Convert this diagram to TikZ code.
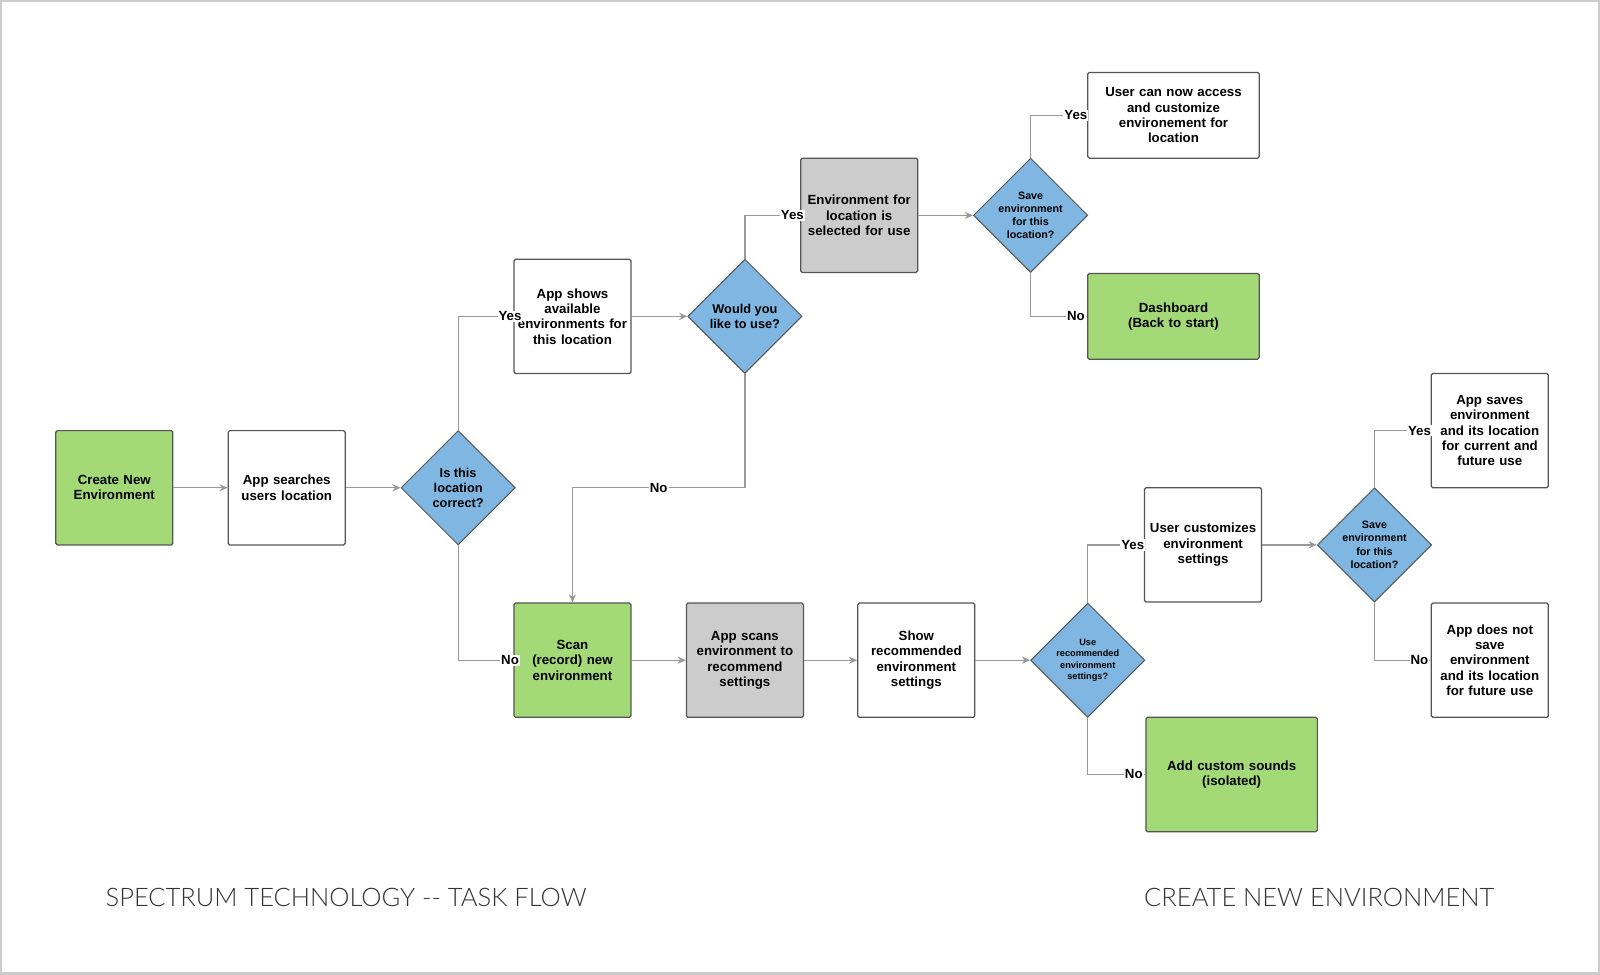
\documentclass[tikz,border=0pt]{standalone}
\usepackage{fontspec}
\setmainfont{Liberation Sans}
\newfontfamily\titlefont{Lato Light}
\usetikzlibrary{shapes.geometric,arrows.meta}
\definecolor{gr}{HTML}{A3D977}
\definecolor{gy}{HTML}{CCCCCC}
\definecolor{bl}{HTML}{7FB7E2}
\definecolor{bd}{HTML}{555555}
\definecolor{ln}{HTML}{999999}
\begin{document}
\begin{tikzpicture}[x=1pt,y=-1pt,
 box/.style={draw=bd,line width=1.2pt,rounded corners=1.5pt,minimum width=112pt,minimum height=112pt,align=center,text width=108pt,font=\fontsize{13}{15}\selectfont\bfseries},
 wbox/.style={box,minimum width=168pt,text width=150pt},
 dia/.style={diamond,draw=bd,line width=1pt,fill=bl,minimum width=112pt,minimum height=112pt,inner sep=0pt,align=center,font=\fontsize{12.5}{15}\selectfont\bfseries},
 con/.style={draw=ln,line width=1.2pt,-{Stealth[length=8pt,width=7pt]}},
 lab/.style={fill=white,inner sep=1pt,font=\fontsize{13}{15}\selectfont\bfseries}]
\fill[white] (0,0) rectangle (1568,955);
\draw[gray!40,line width=2pt] (1,1) rectangle (1567,954);
\node[box,fill=gr] (create) at (112,478) {Create New\\Environment};
\node[box] (search) at (281,478) {App searches\\users location};
\node[dia] (d1) at (449,478) {Is this\\location\\correct?};
\node[box] (shows) at (561,310) {App shows\\available\\environments for\\this location};
\node[dia] (d2) at (730,310) {Would you\\like to use?};
\node[box,fill=gy] (sel) at (842,211) {Environment for\\location is\\selected for use};
\node[dia,font=\fontsize{10.5}{13}\selectfont\bfseries] (d3) at (1010,211) {Save\\environment\\for this\\location?};
\node[wbox,minimum height=84pt] (access) at (1150,113) {User can now access\\and customize\\environement for\\location};
\node[wbox,minimum height=84pt,fill=gr] (dash) at (1150,310) {Dashboard\\(Back to start)};
\node[box,fill=gr] (scan) at (561,647) {Scan (record) new\\environment};
\node[box,fill=gy] (scans) at (730,647) {App scans\\environment to\\recommend\\settings};
\node[box] (show) at (898,647) {Show\\recommended\\environment\\settings};
\node[dia,font=\fontsize{9}{11}\selectfont\bfseries] (d4) at (1066,647) {Use\\recommended\\environment\\settings?};
\node[box] (cust) at (1179,534) {User customizes\\environment\\settings};
\node[dia,font=\fontsize{10.5}{13}\selectfont\bfseries] (d5) at (1347,534) {Save\\environment\\for this\\location?};
\node[box] (saves) at (1460,422) {App saves\\environment\\and its location\\for current and\\future use};
\node[box] (nots) at (1460,647) {App does not\\save\\environment\\and its location\\for future use};
\node[wbox,fill=gr] (add) at (1207,759) {Add custom sounds\\(isolated)};
\draw[con] (create) -- (search);
\draw[con] (search) -- (d1);
\draw[con] (shows) -- (d2);
\draw[con] (sel) -- (d3);
\draw[con] (scan) -- (scans);
\draw[con] (scans) -- (show);
\draw[con] (show) -- (d4);
\draw[con] (cust) -- (d5);
\draw[con] (d1.north) |- node[lab,pos=0.97]{Yes} (shows.west);
\draw[con] (d1.south) |- node[lab,pos=0.97]{No} (scan.west);
\draw[con] (d2.north) |- node[lab,pos=0.93]{Yes} (sel.west);
\draw[con] (d2.south) |- node[lab,pos=0.75]{No} (561,478) -- (scan.north);
\draw[con] (d3.north) |- node[lab,pos=0.9]{Yes} (access.west);
\draw[con] (d3.south) |- node[lab,pos=0.9]{No} (dash.west);
\draw[con] (d4.north) |- node[lab,pos=0.9]{Yes} (cust.west);
\draw[con] (d4.south) |- node[lab,pos=0.9]{No} (add.west);
\draw[con] (d5.north) |- node[lab,pos=0.9]{Yes} (saves.west);
\draw[con] (d5.south) |- node[lab,pos=0.9]{No} (nots.west);
\node[font=\titlefont\fontsize{25}{28}\selectfont,text=black!80,anchor=west] (t1) at (100,880) {SPECTRUM TECHNOLOGY -- TASK FLOW};
\node[font=\titlefont\fontsize{25}{28}\selectfont,text=black!80,anchor=east] (t2) at (1468,880) {CREATE NEW ENVIRONMENT};
\end{tikzpicture}
\end{document}
